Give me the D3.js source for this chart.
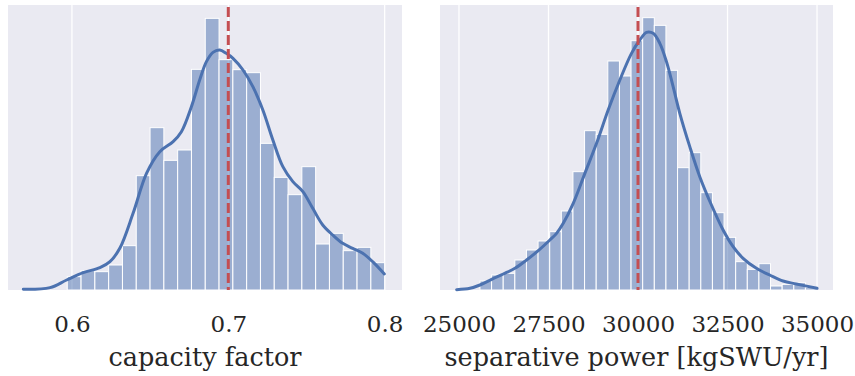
<!DOCTYPE html>
<html><head><meta charset="utf-8">
<script src="https://cdn.jsdelivr.net/npm/d3@7"></script>
<style>body{margin:0;background:#fff}svg{display:block}</style>
</head><body>
<svg id="chart" width="855" height="376"></svg>
<script>
// ---- Data ----
// Left panel: capacity factor histogram (23 bins) + KDE
const cfBinStart = 0.597, cfBinEnd = 0.800;
const cfCounts = [40, 58, 55, 75, 133, 343, 487, 389, 420, 662, 815, 691, 661, 652, 440, 338, 286, 370, 138, 170, 118, 128, 82];
const cfKdeX = [0.5689,0.5860,0.5966,0.6072,0.6179,0.6243,0.6306,0.6391,0.6477,0.6562,0.6647,0.6700,0.6764,0.6817,0.6860,0.6902,0.6945,0.6987,0.7030,0.7094,0.7157,0.7221,0.7285,0.7349,0.7413,0.7477,0.7540,0.7604,0.7668,0.7732,0.7796,0.7860,0.7923,0.7998];
const cfKdeY = [2,7,30,52,67,85,125,230,350,415,445,475,550,630,685,713,720,710,695,660,610,540,450,370,325,295,245,195,165,140,125,110,85,48];
const cfMean = 0.7;
const cfTicks = [0.6, 0.7, 0.8];
const cfTickLabels = ["0.6", "0.7", "0.8"];
const cfLabel = "capacity factor";

// Right panel: separative power histogram (29 bins) + KDE
const spBinStart = 25586, spBinEnd = 35000;
const spCounts = [27,45,50,90,120,147,175,237,355,478,467,687,642,748,817,794,659,367,412,292,232,158,85,62,79,12,17,22,7];
const spKdeX = [24935,25307,25586,25912,26237,26563,26888,27214,27539,27726,27912,28191,28516,28842,29167,29493,29818,30051,30237,30423,30609,30795,30981,31167,31446,31725,32051,32377,32656,32935,33307,33679,34051,34423,35000];
const spKdeY = [1,5,15,32,48,65,90,118,150,170,200,260,350,440,540,630,710,750,773,770,740,685,610,530,430,340,255,180,130,95,65,45,27,18,5];
const spMean = 30000;
const spTicks = [25000, 27500, 30000, 32500, 35000];
const spTickLabels = ["25000", "27500", "30000", "32500", "35000"];
const spLabel = "separative power [kgSWU/yr]";

const yMax = 855;

const svg = d3.select("#chart");
const FONT = "DejaVu Serif";

function panel(opt) {
  const {left, right, top, bottom, xDomain, binStart, binEnd, counts, kdeX, kdeY, mean, ticks, tickLabels, label} = opt;
  const x = d3.scaleLinear().domain(xDomain).range([left, right]);
  const y = d3.scaleLinear().domain([0, yMax]).range([bottom, top]);
  const g = svg.append("g");
  g.append("rect").attr("x", left).attr("y", top).attr("width", right - left).attr("height", bottom - top).attr("fill", "#EAEAF2");
  // grid
  g.append("g").selectAll("line").data(ticks).join("line")
    .attr("x1", d => x(d)).attr("x2", d => x(d)).attr("y1", top).attr("y2", bottom)
    .attr("stroke", "#fff").attr("stroke-width", 1.3);
  // bars
  const w = (binEnd - binStart) / counts.length;
  const bins = counts.map((c, i) => ({x0: binStart + i * w, x1: binStart + (i + 1) * w, c}));
  g.append("g").selectAll("rect").data(bins).join("rect")
    .attr("x", d => x(d.x0)).attr("width", d => x(d.x1) - x(d.x0))
    .attr("y", d => y(d.c)).attr("height", d => y(0) - y(d.c))
    .attr("fill", "#4C72B0").attr("fill-opacity", 0.5)
    .attr("stroke", "#fff").attr("stroke-width", 1);
  // kde
  const line = d3.line().x(d => x(d[0])).y(d => y(d[1])).curve(d3.curveCatmullRom.alpha(0.5));
  g.append("path").datum(kdeX.map((v, i) => [v, kdeY[i]])).attr("d", line)
    .attr("fill", "none").attr("stroke", "#4C72B0").attr("stroke-width", 3).attr("stroke-linecap", "round");
  // mean line
  g.append("line").attr("x1", x(mean)).attr("x2", x(mean)).attr("y1", y(yMax) + 2).attr("y2", bottom)
    .attr("stroke", "#C44E52").attr("stroke-width", 3).attr("stroke-dasharray", "10,4");
  // x axis
  const axis = d3.axisBottom(x).tickValues(ticks).tickFormat((d, i) => tickLabels[i]).tickSize(0).tickPadding(0);
  const ag = g.append("g").attr("transform", `translate(0,${bottom})`).call(axis);
  ag.select(".domain").remove();
  ag.selectAll("text").attr("font-family", FONT).attr("font-size", 23).attr("fill", "#262626")
    .attr("dy", null).attr("y", 42);
  g.append("text").attr("x", (left + right) / 2).attr("y", 366).attr("text-anchor", "middle")
    .attr("font-family", FONT).attr("font-size", 25.5).attr("fill", "#262626").text(label);
}

panel({left: 8, right: 402, top: 5, bottom: 290, xDomain: [0.5591, 0.8111],
  binStart: cfBinStart, binEnd: cfBinEnd, counts: cfCounts, kdeX: cfKdeX, kdeY: cfKdeY,
  mean: cfMean, ticks: cfTicks, tickLabels: cfTickLabels, label: cfLabel});
panel({left: 440, right: 833, top: 5, bottom: 290, xDomain: [24470, 35446],
  binStart: spBinStart, binEnd: spBinEnd, counts: spCounts, kdeX: spKdeX, kdeY: spKdeY,
  mean: spMean, ticks: spTicks, tickLabels: spTickLabels, label: spLabel});
</script>
</body></html>
